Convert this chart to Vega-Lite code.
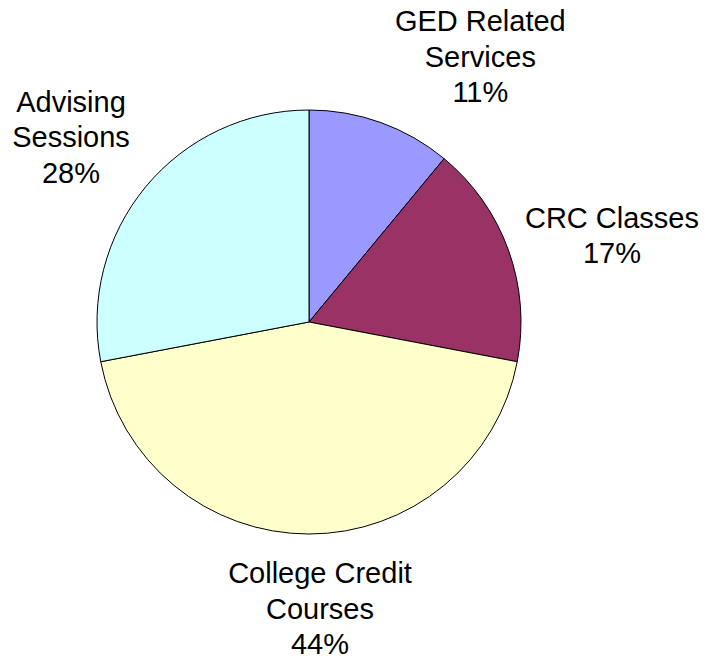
{
  "$schema": "https://vega.github.io/schema/vega-lite/v6.json",
  "width": 618,
  "height": 644,
  "autosize": {"type": "none"},
  "padding": {"left": 0, "top": 0, "right": 89, "bottom": 17},
  "background": "white",
  "config": {"view": {"stroke": null}},
  "data": {
    "values": [
      {"idx": 1, "category": "GED Related Services", "label": "GED Related\nServices\n11%", "value": 11},
      {"idx": 2, "category": "CRC Classes", "label": "CRC Classes\n17%", "value": 17},
      {"idx": 3, "category": "College Credit Courses", "label": "College Credit\nCourses\n44%", "value": 44},
      {"idx": 4, "category": "Advising Sessions", "label": "Advising\nSessions\n28%", "value": 28}
    ]
  },
  "encoding": {
    "theta": {"field": "value", "type": "quantitative", "stack": true},
    "order": {"field": "idx", "type": "quantitative"}
  },
  "layer": [
    {
      "mark": {"type": "arc", "radius": 212, "stroke": "black", "strokeWidth": 1},
      "encoding": {
        "color": {
          "field": "category",
          "type": "nominal",
          "scale": {
            "domain": ["GED Related Services", "CRC Classes", "College Credit Courses", "Advising Sessions"],
            "range": ["#9999FF", "#993366", "#FFFFCC", "#CCFFFF"]
          },
          "legend": null
        }
      }
    },
    {
      "mark": {
        "type": "text",
        "radius": 305,
        "font": "Liberation Sans",
        "fontSize": 29,
        "lineHeight": 35.5,
        "lineBreak": "\n",
        "align": "center",
        "baseline": "middle",
        "color": "black",
        "dx": {"expr": "datum.idx == 1 ? 68 : datum.idx == 2 ? 16 : datum.idx == 3 ? 11 : -3"},
        "dy": {"expr": "datum.idx == 1 ? -13 : datum.idx == 2 ? 0 : datum.idx == 3 ? -53 : -25"}
      },
      "encoding": {
        "text": {"field": "label", "type": "nominal"}
      }
    }
  ]
}
